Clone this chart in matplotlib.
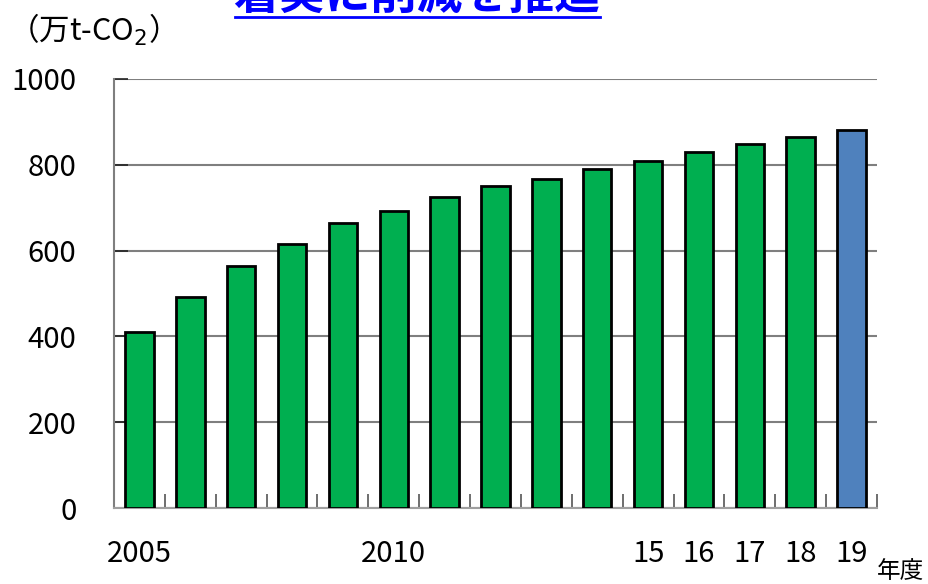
import matplotlib
matplotlib.use("Agg")
from matplotlib import pyplot as plt
from matplotlib.lines import Line2D
import numpy as np

plt.rcParams['font.family'] = ['Noto Sans CJK JP', 'DejaVu Sans']

years = [2005, 2006, 2007, 2008, 2009, 2010, 2011, 2012, 2013, 2014,
         2015, 2016, 2017, 2018, 2019]
values = [411, 491, 564, 616, 665, 693, 725, 750, 767, 790,
          810, 831, 848, 864, 880]
xlabels = ["2005", "", "", "", "", "2010", "", "", "", "",
           "15", "16", "17", "18", "19"]
colors = ["#00AF50"] * 14 + ["#4F81BD"]

fig = plt.figure(figsize=(9.29, 5.84), dpi=100)
ax = fig.add_axes([114 / 929, 76 / 584, 763 / 929, 429 / 584])

x = np.arange(len(years))
ax.bar(x, values, width=0.56, color=colors, edgecolor="black",
       linewidth=2, zorder=3)

ax.set_xlim(-0.5, len(years) - 0.5)
ax.set_ylim(0, 1000)
ax.set_yticks(range(0, 1001, 200))
ax.tick_params(axis="y", labelsize=21, direction="in", length=10,
               width=1.2, color="#222222", pad=27)
ax.grid(axis="y", color="#7f7f7f", linewidth=1.5, zorder=0)

# category ticks on boundaries, labels under bars
ax.set_xticks(np.arange(-0.5, len(years), 1.0))
ax.set_xticklabels([])
ax.set_xticks(x, minor=True)
ax.set_xticklabels(xlabels, minor=True, fontsize=21)
ax.tick_params(axis="x", which="major", direction="in", length=10,
               width=1.2, color="#555555")
ax.tick_params(axis="x", which="minor", length=0, pad=22)

for s in ["top", "right"]:
    ax.spines[s].set_visible(False)
ax.spines["left"].set_color("#7f7f7f")
ax.spines["left"].set_linewidth(1.5)
ax.spines["bottom"].set_color("#9f9f9f")
ax.spines["bottom"].set_linewidth(1.5)

fig.text(8 / 929, 1 - 30 / 584, "（万t-CO$_2$）", fontsize=22,
         ha="left", va="center")
fig.text(901 / 929, 1 - 571 / 584, "年度", fontsize=17,
         ha="center", va="center")

# title, partly cut off at the top edge
fig.text(417 / 929, 1 - 9 / 584, "着実に削減を推進", fontsize=33,
         fontweight="bold", color="#0000FF", ha="center", va="baseline")
fig.add_artist(Line2D([235 / 929, 600 / 929], [1 - 17 / 584, 1 - 17 / 584],
                      color="#0000FF", linewidth=2, transform=fig.transFigure))

fig.savefig("out.png", dpi=100)
